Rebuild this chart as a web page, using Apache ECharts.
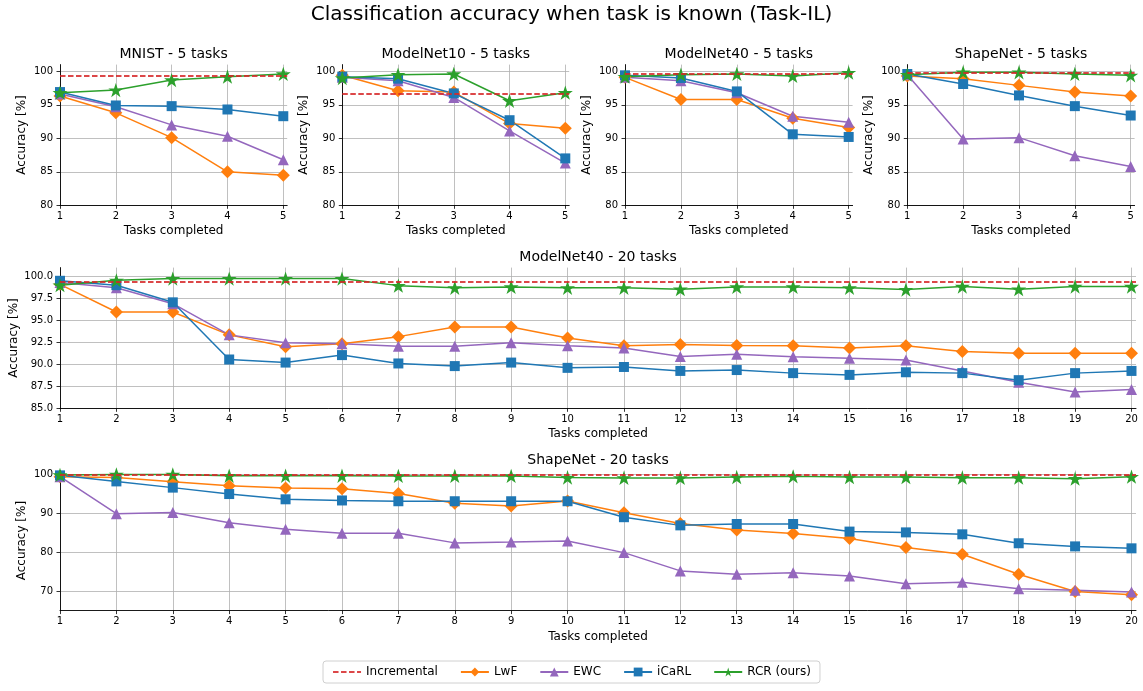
<!DOCTYPE html>
<html>
<head>
<meta charset="utf-8">
<title>Task-IL accuracy</title>
<script src="https://cdn.jsdelivr.net/npm/echarts@6/dist/echarts.min.js"></script>
<style>
    html, body { margin: 0; padding: 0; background: #fff; }
    #chart { width: 1143px; height: 691px; }
</style>
</head>
<body>
<div id="chart"></div>
<script>
    'use strict'

    // x values (tasks completed)
    const tasks5 = [1, 2, 3, 4, 5]
    const tasks20 = [1, 2, 3, 4, 5, 6, 7, 8, 9, 10, 11, 12, 13, 14, 15, 16, 17, 18, 19, 20]

    // MNIST - 5 tasks
    const mnistInc = 99.3
    const mnistLwf = [96.3, 93.8, 90.1, 85.0, 84.5]
    const mnistEwc = [96.6, 94.7, 92.0, 90.3, 86.8]
    const mnistIcarl = [96.9, 94.9, 94.8, 94.3, 93.3]
    const mnistRcr = [96.8, 97.2, 98.7, 99.2, 99.6]

    // ModelNet10 - 5 tasks
    const mn10Inc = 96.7
    const mn10Lwf = [99.4, 97.1, 96.9, 92.2, 91.5]
    const mn10Ewc = [99.1, 98.6, 96.1, 91.1, 86.3]
    const mn10Icarl = [99.2, 98.9, 96.7, 92.7, 87.0]
    const mn10Rcr = [99.0, 99.5, 99.6, 95.6, 96.8]

    // ModelNet40 - 5 tasks
    const mn40Inc = 99.6
    const mn40Lwf = [99.1, 95.8, 95.8, 93.0, 91.6]
    const mn40Ewc = [99.1, 98.6, 96.8, 93.3, 92.4]
    const mn40Icarl = [99.4, 99.0, 97.0, 90.6, 90.2]
    const mn40Rcr = [99.2, 99.5, 99.6, 99.3, 99.8]

    // ShapeNet - 5 tasks
    const snInc = 99.75
    const snLwf = [99.3, 98.9, 97.9, 96.9, 96.3]
    const snEwc = [99.5, 89.9, 90.1, 87.4, 85.8]
    const snIcarl = [99.6, 98.1, 96.4, 94.8, 93.4]
    const snRcr = [99.5, 99.85, 99.85, 99.6, 99.4]

    // ModelNet40 - 20 tasks
    const mn40LongInc = 99.4
    const mn40LongLwf = [99.1, 95.95, 95.95, 93.35, 92.0, 92.35, 93.15, 94.25, 94.25, 93.0, 92.1, 92.25, 92.15, 92.1, 91.85, 92.1, 91.45, 91.25, 91.25, 91.25]
    const mn40LongEwc = [99.3, 98.7, 96.9, 93.35, 92.45, 92.35, 92.05, 92.05, 92.45, 92.1, 91.85, 90.9, 91.15, 90.85, 90.7, 90.5, 89.25, 87.95, 86.85, 87.15]
    const mn40LongIcarl = [99.5, 99.0, 97.05, 90.55, 90.2, 91.05, 90.1, 89.8, 90.2, 89.6, 89.7, 89.25, 89.35, 89.0, 88.8, 89.1, 89.0, 88.2, 89.0, 89.25]
    const mn40LongRcr = [99.0, 99.55, 99.75, 99.75, 99.75, 99.75, 98.95, 98.7, 98.8, 98.7, 98.7, 98.55, 98.8, 98.8, 98.7, 98.5, 98.85, 98.55, 98.85, 98.85]

    // ShapeNet - 20 tasks
    const snLongInc = 100.0
    const snLongLwf = [99.4, 99.2, 98.1, 97.1, 96.5, 96.3, 95.1, 92.6, 91.9, 93.15, 90.15, 87.4, 85.7, 84.8, 83.5, 81.2, 79.5, 74.35, 69.9, 69.05]
    const snLongEwc = [99.4, 89.9, 90.2, 87.6, 85.9, 84.9, 84.9, 82.4, 82.6, 82.9, 79.9, 75.2, 74.35, 74.7, 73.9, 71.9, 72.3, 70.6, 70.25, 69.75]
    const snLongIcarl = [99.75, 98.2, 96.6, 94.95, 93.6, 93.3, 93.1, 93.1, 93.1, 93.1, 89.0, 86.9, 87.25, 87.25, 85.3, 85.1, 84.6, 82.3, 81.5, 81.0]
    const snLongRcr = [99.85, 100.0, 100.0, 99.65, 99.65, 99.65, 99.6, 99.6, 99.6, 99.2, 99.1, 99.1, 99.3, 99.5, 99.3, 99.3, 99.15, 99.15, 98.9, 99.4]

    // tick labels
    const yTicksShort = [80, 85, 90, 95, 100]
    const yTicksMn40Long = [85, 87.5, 90, 92.5, 95, 97.5, 100]
    const yTicksSnLong = [70, 80, 90, 100]

    const STAR = 'path://M100,0L122.45,69.1L195.1,69.1L136.3,111.8L158.8,180.9L100,138.2L41.2,180.9L63.7,111.8L4.9,69.1L77.55,69.1Z'

    const methods = [
        {name: 'LwF', color: '#ff7f0e', symbol: 'diamond', size: 13},
        {name: 'EWC', color: '#9467bd', symbol: 'triangle', size: 11},
        {name: 'iCaRL', color: '#1f77b4', symbol: 'rect', size: 10},
        {name: 'RCR (ours)', color: '#2ca02c', symbol: STAR, size: 15}
    ]
    const INC_COLOR = '#d62728'
    const INC_LINE = {color: INC_COLOR, width: 2, type: [5.5, 2.5], opacity: 0.85}
    const FONT = 'DejaVu Sans'

    const panels = [
        {title: 'MNIST - 5 tasks', box: [60, 64.6, 227.2, 140.7], xs: tasks5, xMax: 5.07,
            yMin: 80, yMax: 101, yTicks: yTicksShort, nameGap: 32,
            inc: mnistInc, lines: [mnistLwf, mnistEwc, mnistIcarl, mnistRcr]},
        {title: 'ModelNet10 - 5 tasks', box: [342.3, 64.6, 226.9, 140.7], xs: tasks5, xMax: 5.07,
            yMin: 80, yMax: 101, yTicks: yTicksShort, nameGap: 32,
            inc: mn10Inc, lines: [mn10Lwf, mn10Ewc, mn10Icarl, mn10Rcr]},
        {title: 'ModelNet40 - 5 tasks', box: [625, 64.6, 227.6, 140.7], xs: tasks5, xMax: 5.07,
            yMin: 80, yMax: 101, yTicks: yTicksShort, nameGap: 32,
            inc: mn40Inc, lines: [mn40Lwf, mn40Ewc, mn40Icarl, mn40Rcr]},
        {title: 'ShapeNet - 5 tasks', box: [907.3, 64.6, 227.3, 140.7], xs: tasks5, xMax: 5.07,
            yMin: 80, yMax: 101, yTicks: yTicksShort, nameGap: 32,
            inc: snInc, lines: [snLwf, snEwc, snIcarl, snRcr]},
        {title: 'ModelNet40 - 20 tasks', box: [60, 267.6, 1076, 140.7], xs: tasks20, xMax: 20.08,
            yMin: 85, yMax: 101, yTicks: yTicksMn40Long, decimals: 1, nameGap: 40,
            inc: mn40LongInc, lines: [mn40LongLwf, mn40LongEwc, mn40LongIcarl, mn40LongRcr]},
        {title: 'ShapeNet - 20 tasks', box: [60, 470.5, 1076, 140.1], xs: tasks20, xMax: 20.08,
            yMin: 65, yMax: 101, yTicks: yTicksSnLong, nameGap: 32,
            inc: snLongInc, lines: [snLongLwf, snLongEwc, snLongIcarl, snLongRcr]}
    ]

    const axisLine = {show: true, onZero: false, lineStyle: {color: '#000', width: 0.9}}
    const splitLine = {show: true, lineStyle: {color: '#b0b0b0', width: 0.8}}

    const option = {
        animation: false,
        backgroundColor: '#fff',
        textStyle: {fontFamily: FONT},
        title: [{
            text: 'Classification accuracy when task is known (Task-IL)',
            left: 571.5, top: 5, padding: 0, textAlign: 'center',
            textStyle: {fontFamily: FONT, fontSize: 20, fontWeight: 'normal', color: '#000'}
        }],
        legend: {
            data: [{name: 'Incremental', itemStyle: {opacity: 0}}].concat(methods.map(m => m.name)),
            left: 'center', top: 661,
            itemWidth: 28, itemHeight: 11, itemGap: 22,
            padding: [5, 9], borderColor: '#d0d0d0', borderWidth: 1, borderRadius: 3,
            textStyle: {fontFamily: FONT, fontSize: 12, color: '#000'}
        },
        grid: [], xAxis: [], yAxis: [], series: []
    }

    panels.forEach((p, i) => {
        const [left, top, width, height] = p.box
        option.title.push({
            text: p.title, left: left + width / 2, top: top - 17.5, padding: 0, textAlign: 'center',
            textStyle: {fontFamily: FONT, fontSize: 14, fontWeight: 'normal', color: '#000'}
        })
        option.grid.push({left: left, top: top, width: width, height: height,
            containLabel: false, outerBoundsMode: 'none'})
        option.xAxis.push({
            type: 'value', gridIndex: i, min: 1, max: p.xMax,
            name: 'Tasks completed', nameLocation: 'middle', nameGap: 20, nameMoveOverlap: false,
            nameTextStyle: {fontFamily: FONT, fontSize: 12, color: '#000'},
            axisLine: axisLine,
            axisTick: {show: true, length: 3.5, customValues: p.xs, lineStyle: {color: '#000', width: 0.8}},
            axisLabel: {fontSize: 10, color: '#000', margin: 6, customValues: p.xs},
            splitLine: splitLine
        })
        option.yAxis.push({
            type: 'value', gridIndex: i, min: p.yMin, max: p.yMax,
            name: 'Accuracy [%]', nameLocation: 'middle', nameGap: p.nameGap, nameMoveOverlap: false,
            nameTextStyle: {fontFamily: FONT, fontSize: 12, color: '#000'},
            axisLine: axisLine,
            axisTick: {show: true, length: 3.5, customValues: p.yTicks, lineStyle: {color: '#000', width: 0.8}},
            axisLabel: {
                fontSize: 10, color: '#000', margin: 7, customValues: p.yTicks,
                formatter: v => p.decimals ? v.toFixed(p.decimals) : String(v)
            },
            splitLine: splitLine
        })

        option.series.push({
            name: 'Incremental', type: 'line', xAxisIndex: i, yAxisIndex: i,
            symbol: 'none', data: [],
            itemStyle: {color: INC_COLOR},
            lineStyle: INC_LINE,
            markLine: {
                silent: true, symbol: ['none', 'none'], label: {show: false},
                lineStyle: INC_LINE,
                data: [{yAxis: p.inc}]
            }
        })

        methods.forEach((m, k) => {
            option.series.push({
                name: m.name, type: 'line', xAxisIndex: i, yAxisIndex: i,
                symbol: m.symbol, symbolSize: m.size, symbolKeepAspect: true,
                clip: false,
                itemStyle: {color: m.color},
                lineStyle: {color: m.color, width: 1.5},
                data: p.xs.map((x, j) => [x, p.lines[k][j]])
            })
        })
    })

    const chart = echarts.init(document.getElementById('chart'))
    chart.setOption(option)
</script>
</body>
</html>
